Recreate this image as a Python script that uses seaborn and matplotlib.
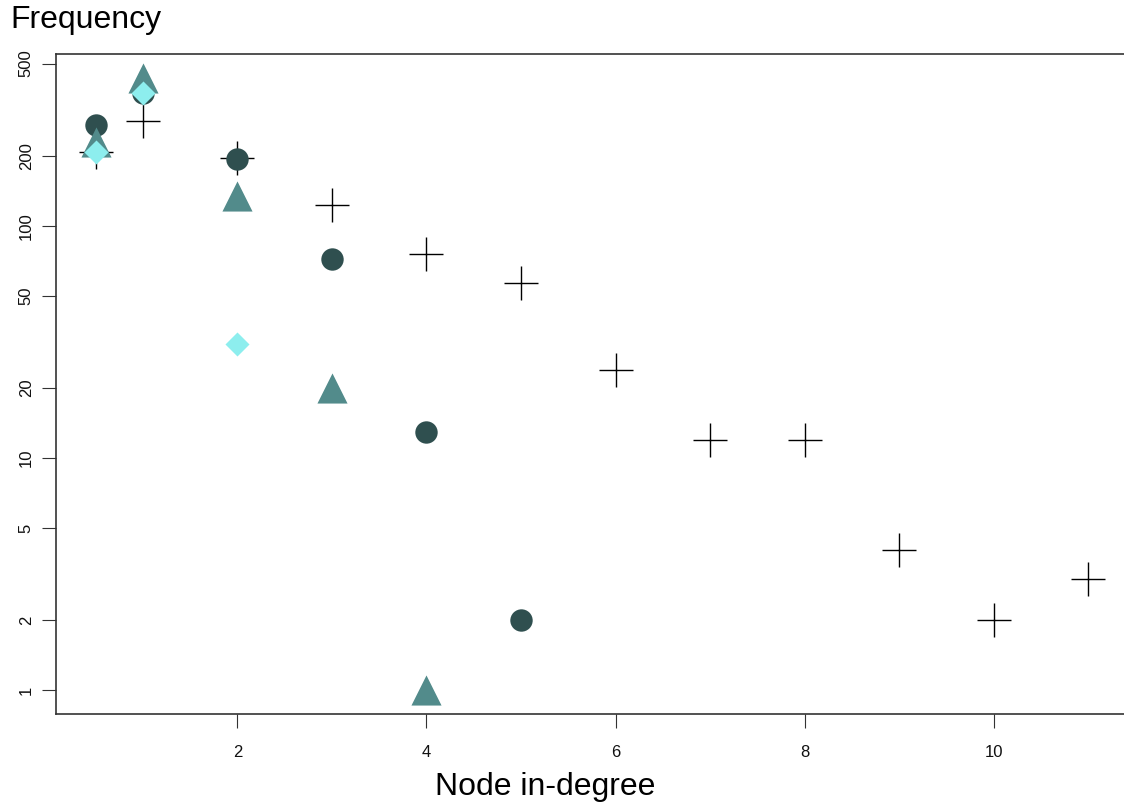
import numpy as np
import pandas as pd
import seaborn as sns
import matplotlib.pyplot as plt

# in-degree values and frequencies
deg_plus = [0.5, 1, 2, 3, 4, 5, 6, 7, 8, 9, 10, 11]
freq_plus = [208, 284, 196, 123, 76, 57, 24, 12, 12, 4, 2, 3]

deg_circle = [0.5, 1, 2, 3, 4, 5]
freq_circle = [272, 374, 194, 72, 13, 2]

deg_tri = [0.5, 1, 2, 3, 4]
freq_tri = [230, 434, 135, 20, 1]

deg_diamond = [0.5, 1, 2]
freq_diamond = [208, 374, 31]

sns.set_style("white")
plt.rcParams['font.family'] = ['Liberation Sans', 'DejaVu Sans']

fig = plt.figure(figsize=(11.24, 8.05), dpi=100)
ax = fig.add_axes([0.0498, 0.113, 0.9502, 0.82])

sns.scatterplot(x=deg_plus, y=freq_plus, marker="+", s=600, color="black",
                linewidth=1, ax=ax, zorder=2)
sns.scatterplot(x=deg_circle, y=freq_circle, marker="o", s=260, color="#2F4F4F",
                linewidth=0, ax=ax, zorder=3)
sns.scatterplot(x=deg_tri, y=freq_tri, marker="^", s=470, color="#528B8B",
                linewidth=0, ax=ax, zorder=4)
sns.scatterplot(x=deg_diamond, y=freq_diamond, marker="D", s=150, color="#8DEEEE",
                linewidth=0, ax=ax, zorder=5)

ax.set_yscale("log")
ax.set_ylim(0.79, 550)
ax.set_xlim(0.08, 11.38)

ax.set_yticks([1, 2, 5, 10, 20, 50, 100, 200, 500])
ax.set_yticklabels(["1", "2", "5", "10", "20", "50", "100", "200", "500"],
                   rotation=90, va="center")
ax.yaxis.set_minor_locator(plt.NullLocator())
ax.set_xticks([2, 4, 6, 8, 10])
ax.tick_params(axis="both", direction="out", length=10, width=0.8,
               labelsize=12, color="#333333", labelcolor="#111111",
               left=True, bottom=True)
ax.tick_params(axis="y", pad=6)
ax.tick_params(axis="x", pad=12)

for side in ["left", "bottom", "top"]:
    ax.spines[side].set_color("#333333")
    ax.spines[side].set_linewidth(1.2)
ax.spines["right"].set_visible(False)

ax.set_xlabel("Node in-degree", fontsize=23, color="black")
ax.xaxis.label.set_va("center")
ax.xaxis.set_label_coords(0.458, -0.111)
ax.set_ylabel("")
fig.text(0.009, 0.975, "Frequency", fontsize=23, ha="left", va="center",
         color="black")

fig.savefig("out.png", dpi=100)
